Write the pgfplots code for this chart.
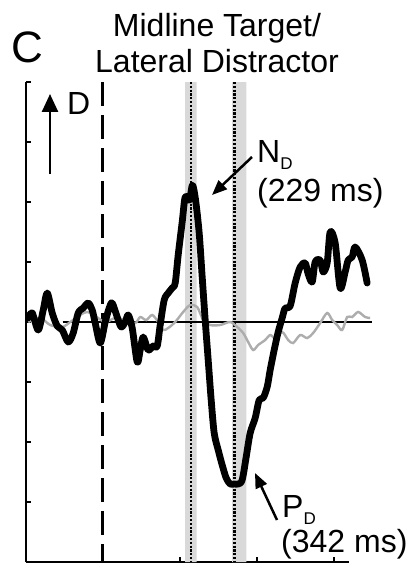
\documentclass[border=0pt]{standalone}
\usepackage{pgfplots}
\pgfplotsset{compat=1.18}
\usepackage{pgfplotstable}
\usepackage{fontspec}
\setmainfont{Liberation Sans}
\usetikzlibrary{arrows.meta}

\definecolor{bandgray}{gray}{0.85}
\definecolor{ipsigray}{gray}{0.68}

% Distractor difference wave (contra - ipsi), time in ms
\pgfplotstableread{
t v
-194.2 0.067
-183.8 0.15
-168.2 -0.133
-155.2 0.2
-144.8 0.483
-131.8 0.15
-118.8 -0.067
-105.8 -0.133
-90.2 -0.333
-77.2 -0.183
-64.2 0.15
-51.2 0.233
-38.2 0.317
-27.8 0.2
-20.0 -0.017
-7.0 -0.35
6.0 0
16.4 0.233
24.2 0.317
37.2 0.083
47.6 -0.083
58.0 0
65.8 0.117
76.2 -0.1
89.2 -0.667
97.0 -0.467
104.8 -0.25
117.8 -0.467
130.8 -0.4
141.2 -0.4
149.0 -0.05
159.4 0.367
169.8 0.483
180.2 0.567
188.0 0.65
195.8 1.117
206.2 1.667
214.0 2.083
225.0 2.033
233.0 2.28
241.0 2.033
250.4 1.483
258.2 0.75
266.0 0.033
273.8 -0.633
281.6 -1.3
289.4 -1.85
299.8 -2.133
310.2 -2.383
320.6 -2.6
331.0 -2.7
341.4 -2.7
351.8 -2.7
362.2 -2.633
372.6 -2.25
383.0 -1.85
396.0 -1.6
406.4 -1.3
416.8 -1.267
427.2 -1.083
435.0 -0.8
445.4 -0.467
455.8 -0.167
466.2 0.067
474.0 0.233
487.0 0.267
500.0 0.65
513.0 0.917
526.0 0.983
533.8 0.8
544.2 0.667
552.0 1.0
565.0 1.033
572.8 0.833
583.2 0.983
591.0 1.5
604.0 1.317
617.0 0.567
630.0 0.833
637.8 1.033
648.2 1.083
656.0 1.25
674.2 1.033
687.2 0.65
}\diffwave

% Control wave
\pgfplotstableread{
t v
-194.2 0
-163.0 0.067
-137.0 -0.05
-105.8 -0.083
-85.0 0
-59.0 0.117
-40.8 0.167
-20.0 0.1
6.0 0
32.0 0.067
58.0 0.033
84.0 -0.017
97.0 0.083
112.6 0.033
128.2 0.117
143.8 0
156.8 -0.133
169.8 -0.1
188.0 0
208.8 0.167
227.0 0.283
245.2 0.25
260.8 0.033
279.0 -0.05
305.0 -0.05
331.0 0
349.2 -0.083
364.8 -0.183
377.8 -0.333
390.8 -0.467
403.8 -0.383
422.0 -0.3
435.0 -0.217
448.0 -0.267
466.2 -0.167
481.8 -0.3
494.8 -0.35
513.0 -0.217
531.2 -0.267
546.8 -0.183
565.0 -0.017
583.2 0.15
596.2 0.033
609.2 -0.05
622.2 -0.133
635.2 0.083
648.2 0.083
663.8 0.167
682.0 0.083
695.0 0.067
}\ctrlwave

\begin{document}
\begin{tikzpicture}
\path[use as bounding box] (0pt,0pt) rectangle (418pt,-564pt);
\begin{axis}[
  at={(26pt,-562pt)}, anchor=south west,
  scale only axis, width=323pt, height=480pt,
  xmin=-200, xmax=640, ymin=-4, ymax=4,
  clip=false,
  axis x line*=bottom, axis y line*=left,
  axis line style={line width=2.6pt, -},
  xtick={-200,0,200,400,600}, ytick={-4,-3,...,4},
  xticklabels={}, yticklabels={},
  tick align=inside, major tick length=5pt,
  tick style={line width=2.2pt, black},
]
% latency confidence bands
\addplot[fill=bandgray, draw=none] coordinates {(214,-4) (244,-4) (244,4) (214,4) (214,-4)};
\addplot[fill=bandgray, draw=none] coordinates {(336,-4) (373,-4) (373,4) (336,4) (336,-4)};
% stimulus onset
\addplot[black, line width=3pt, dash pattern=on 24pt off 9pt] coordinates {(0,4) (0,-4)};
% component latencies
\addplot[black, line width=2.3pt, dash pattern=on 2.2pt off 1.6pt] coordinates {(229,4) (229,-4)};
\addplot[black, line width=2.3pt, dash pattern=on 2.2pt off 1.6pt] coordinates {(342,4) (342,-4)};
% baseline
\addplot[black, line width=2.3pt] coordinates {(-105,0) (700,0)};
% waves
\addplot[ipsigray, line width=2.4pt, smooth, tension=0.5] table[x=t, y=v] {\ctrlwave};
\addplot[black, line width=6.8pt, smooth, tension=0.5, line join=round, line cap=round] table[x=t, y=v] {\diffwave};
\end{axis}

% panel letter and title
\node[anchor=center, font=\fontsize{44}{44}\selectfont] at (27pt,-47pt) {C};
\node[anchor=base, font=\fontsize{32}{36}\selectfont] at (217pt,-37pt) {Midline Target/};
\node[anchor=base, font=\fontsize{32}{36}\selectfont] at (217pt,-73pt) {Lateral Distractor};

% polarity indicator
\draw[line width=2.5pt, -{Triangle[width=16pt,length=18pt]}] (50pt,-174pt) -- (50pt,-94pt);
\node[anchor=base west, font=\fontsize{32}{36}\selectfont, inner sep=0pt] at (67pt,-115pt) {D};

% component labels
\draw[line width=2.5pt, -{Triangle[width=12pt,length=15pt]}] (252pt,-157pt) -- (212pt,-195pt);
\node[anchor=base west, font=\fontsize{32}{36}\selectfont, inner sep=0pt] at (257pt,-163pt)
  {N\raisebox{-7pt}{\fontsize{17}{17}\selectfont D}};
\node[anchor=base west, font=\fontsize{32}{36}\selectfont, inner sep=0pt] at (257pt,-201pt) {(229 ms)};

\draw[line width=2.5pt, -{Triangle[width=12pt,length=15pt]}] (277pt,-520pt) -- (255pt,-473pt);
\node[anchor=base west, font=\fontsize{32}{36}\selectfont, inner sep=0pt] at (282pt,-517pt)
  {P\raisebox{-7pt}{\fontsize{17}{17}\selectfont D}};
\node[anchor=base west, font=\fontsize{32}{36}\selectfont, inner sep=0pt] at (281pt,-552pt) {(342 ms)};
\end{tikzpicture}
\end{document}
